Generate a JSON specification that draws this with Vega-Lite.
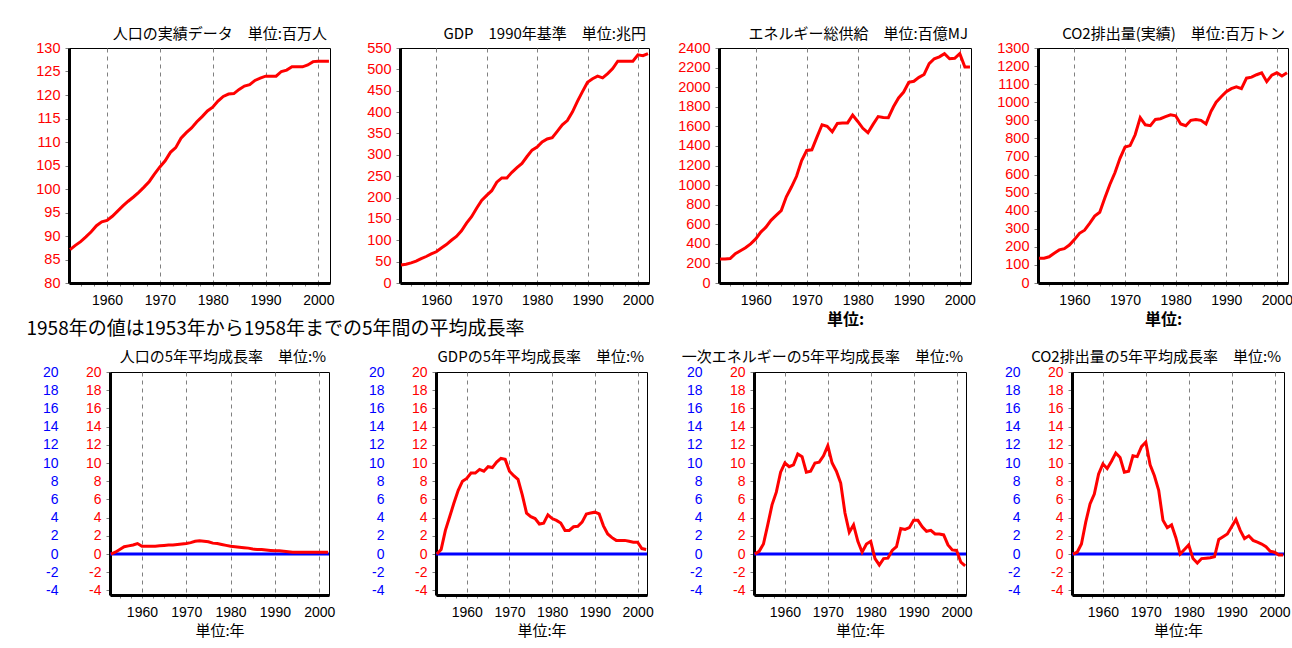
{
  "$schema": "https://vega.github.io/schema/vega-lite/v6.json",
  "padding": {"left": 26, "top": 26, "right": 0, "bottom": 0},
  "background": "white",
  "config": {
    "font": "Noto Sans CJK JP",
    "view": {"stroke": "black", "strokeWidth": 1},
    "axis": {"labelFont": "Liberation Sans", "labelFontSize": 14, "domainColor": "black", "domainWidth": 3, "tickColor": "#808080", "tickSize": 4, "grid": false, "titleFont": "Noto Sans CJK JP", "titleFontWeight": "normal", "titleColor": "black", "titleFontSize": 15, "labelColor": "black"},
    "title": {"font": "Noto Sans CJK JP", "fontSize": 15, "fontWeight": "normal", "anchor": "end", "frame": "group", "offset": -2, "color": "black", "dx": -3},
    "line": {"color": "#ff0000", "strokeWidth": 3}
  },
  "data": {"values": [
    {"year":1953,"pop":87.1,"gdp":42,"energy":245,"co2":137,"pop_r":0,"gdp_r":0,"energy_r":0,"co2_r":0},
    {"year":1954,"pop":88.0,"gdp":44,"energy":245,"co2":137,"pop_r":0.2,"gdp_r":0.5,"energy_r":0.3,"co2_r":0.2},
    {"year":1955,"pop":88.8,"gdp":47,"energy":250,"co2":145,"pop_r":0.5,"gdp_r":2.6,"energy_r":1.1,"co2_r":1.1},
    {"year":1956,"pop":89.8,"gdp":51,"energy":300,"co2":165,"pop_r":0.8,"gdp_r":4.1,"energy_r":3.2,"co2_r":3.5},
    {"year":1957,"pop":90.9,"gdp":57,"energy":330,"co2":183,"pop_r":0.9,"gdp_r":5.6,"energy_r":5.4,"co2_r":5.5},
    {"year":1958,"pop":92.2,"gdp":62,"energy":360,"co2":190,"pop_r":1.0,"gdp_r":7.0,"energy_r":6.8,"co2_r":6.6},
    {"year":1959,"pop":93.0,"gdp":68,"energy":400,"co2":210,"pop_r":1.15,"gdp_r":8.0,"energy_r":9.0,"co2_r":8.8},
    {"year":1960,"pop":93.3,"gdp":73,"energy":450,"co2":240,"pop_r":0.85,"gdp_r":8.3,"energy_r":10.0,"co2_r":9.9},
    {"year":1961,"pop":94.2,"gdp":82,"energy":520,"co2":275,"pop_r":0.85,"gdp_r":8.9,"energy_r":9.6,"co2_r":9.4},
    {"year":1962,"pop":95.3,"gdp":90,"energy":570,"co2":292,"pop_r":0.85,"gdp_r":8.9,"energy_r":9.8,"co2_r":10.2},
    {"year":1963,"pop":96.4,"gdp":100,"energy":640,"co2":330,"pop_r":0.85,"gdp_r":9.3,"energy_r":11.0,"co2_r":11.1},
    {"year":1964,"pop":97.4,"gdp":109,"energy":690,"co2":370,"pop_r":0.9,"gdp_r":9.1,"energy_r":10.7,"co2_r":10.6},
    {"year":1965,"pop":98.3,"gdp":122,"energy":740,"co2":391,"pop_r":0.95,"gdp_r":9.6,"energy_r":9.0,"co2_r":9.0},
    {"year":1966,"pop":99.3,"gdp":140,"energy":880,"co2":470,"pop_r":1.0,"gdp_r":9.5,"energy_r":9.1,"co2_r":9.1},
    {"year":1967,"pop":100.4,"gdp":155,"energy":980,"co2":545,"pop_r":1.0,"gdp_r":10.1,"energy_r":10.0,"co2_r":10.8},
    {"year":1968,"pop":101.6,"gdp":175,"energy":1090,"co2":610,"pop_r":1.05,"gdp_r":10.5,"energy_r":10.1,"co2_r":10.7},
    {"year":1969,"pop":103.2,"gdp":193,"energy":1250,"co2":690,"pop_r":1.1,"gdp_r":10.4,"energy_r":10.8,"co2_r":11.8},
    {"year":1970,"pop":104.7,"gdp":205,"energy":1354,"co2":752,"pop_r":1.15,"gdp_r":9.1,"energy_r":11.9,"co2_r":12.3},
    {"year":1971,"pop":106.0,"gdp":216,"energy":1360,"co2":760,"pop_r":1.25,"gdp_r":8.6,"energy_r":10.0,"co2_r":9.8},
    {"year":1972,"pop":107.8,"gdp":236,"energy":1490,"co2":820,"pop_r":1.4,"gdp_r":8.2,"energy_r":9.1,"co2_r":8.6},
    {"year":1973,"pop":108.8,"gdp":246,"energy":1616,"co2":915,"pop_r":1.45,"gdp_r":6.5,"energy_r":7.8,"co2_r":7.0},
    {"year":1974,"pop":110.8,"gdp":246,"energy":1600,"co2":875,"pop_r":1.4,"gdp_r":4.5,"energy_r":4.5,"co2_r":3.7},
    {"year":1975,"pop":112.0,"gdp":259,"energy":1545,"co2":870,"pop_r":1.35,"gdp_r":4.1,"energy_r":2.4,"co2_r":2.9},
    {"year":1976,"pop":113.0,"gdp":270,"energy":1630,"co2":905,"pop_r":1.2,"gdp_r":3.9,"energy_r":3.2,"co2_r":3.2},
    {"year":1977,"pop":114.3,"gdp":280,"energy":1633,"co2":909,"pop_r":1.15,"gdp_r":3.3,"energy_r":1.4,"co2_r":1.8},
    {"year":1978,"pop":115.4,"gdp":296,"energy":1635,"co2":920,"pop_r":1.05,"gdp_r":3.4,"energy_r":0.2,"co2_r":0.0},
    {"year":1979,"pop":116.6,"gdp":311,"energy":1715,"co2":930,"pop_r":0.95,"gdp_r":4.3,"energy_r":1.1,"co2_r":0.5},
    {"year":1980,"pop":117.4,"gdp":318,"energy":1650,"co2":925,"pop_r":0.85,"gdp_r":3.9,"energy_r":1.4,"co2_r":1.0},
    {"year":1981,"pop":118.7,"gdp":330,"energy":1580,"co2":880,"pop_r":0.8,"gdp_r":3.7,"energy_r":-0.5,"co2_r":-0.5},
    {"year":1982,"pop":119.7,"gdp":337,"energy":1535,"co2":870,"pop_r":0.75,"gdp_r":3.4,"energy_r":-1.2,"co2_r":-1.0},
    {"year":1983,"pop":120.2,"gdp":340,"energy":1620,"co2":900,"pop_r":0.7,"gdp_r":2.6,"energy_r":-0.5,"co2_r":-0.5},
    {"year":1984,"pop":120.3,"gdp":355,"energy":1700,"co2":905,"pop_r":0.65,"gdp_r":2.6,"energy_r":-0.45,"co2_r":-0.45},
    {"year":1985,"pop":121.2,"gdp":370,"energy":1690,"co2":900,"pop_r":0.55,"gdp_r":3.0,"energy_r":0.4,"co2_r":-0.4},
    {"year":1986,"pop":121.9,"gdp":380,"energy":1688,"co2":880,"pop_r":0.5,"gdp_r":3.05,"energy_r":0.8,"co2_r":-0.3},
    {"year":1987,"pop":122.2,"gdp":400,"energy":1800,"co2":950,"pop_r":0.5,"gdp_r":3.5,"energy_r":2.8,"co2_r":1.6},
    {"year":1988,"pop":123.1,"gdp":425,"energy":1890,"co2":1000,"pop_r":0.45,"gdp_r":4.4,"energy_r":2.7,"co2_r":1.9},
    {"year":1989,"pop":123.6,"gdp":448,"energy":1950,"co2":1030,"pop_r":0.4,"gdp_r":4.5,"energy_r":2.9,"co2_r":2.2},
    {"year":1990,"pop":124.0,"gdp":470,"energy":2050,"co2":1058,"pop_r":0.35,"gdp_r":4.6,"energy_r":3.7,"co2_r":3.0},
    {"year":1991,"pop":124.0,"gdp":478,"energy":2060,"co2":1075,"pop_r":0.35,"gdp_r":4.4,"energy_r":3.7,"co2_r":3.8},
    {"year":1992,"pop":124.0,"gdp":484,"energy":2100,"co2":1085,"pop_r":0.3,"gdp_r":3.1,"energy_r":3.0,"co2_r":2.6},
    {"year":1993,"pop":125.0,"gdp":480,"energy":2130,"co2":1075,"pop_r":0.25,"gdp_r":2.2,"energy_r":2.5,"co2_r":1.7},
    {"year":1994,"pop":125.3,"gdp":490,"energy":2240,"co2":1133,"pop_r":0.2,"gdp_r":1.8,"energy_r":2.6,"co2_r":2.0},
    {"year":1995,"pop":126.0,"gdp":502,"energy":2290,"co2":1139,"pop_r":0.2,"gdp_r":1.5,"energy_r":2.2,"co2_r":1.5},
    {"year":1996,"pop":126.0,"gdp":519,"energy":2310,"co2":1152,"pop_r":0.2,"gdp_r":1.5,"energy_r":2.2,"co2_r":1.3},
    {"year":1997,"pop":126.0,"gdp":519,"energy":2342,"co2":1163,"pop_r":0.2,"gdp_r":1.5,"energy_r":2.1,"co2_r":1.1},
    {"year":1998,"pop":126.4,"gdp":519,"energy":2290,"co2":1114,"pop_r":0.2,"gdp_r":1.4,"energy_r":1.0,"co2_r":0.8},
    {"year":1999,"pop":127.1,"gdp":519,"energy":2295,"co2":1150,"pop_r":0.2,"gdp_r":1.3,"energy_r":0.45,"co2_r":0.3},
    {"year":2000,"pop":127.2,"gdp":534,"energy":2342,"co2":1163,"pop_r":0.2,"gdp_r":1.3,"energy_r":0.4,"co2_r":0.2},
    {"year":2001,"pop":127.2,"gdp":532,"energy":2206,"co2":1145,"pop_r":0.2,"gdp_r":0.6,"energy_r":-0.9,"co2_r":-0.1},
    {"year":2002,"pop":127.2,"gdp":537,"energy":2206,"co2":1163,"pop_r":0.2,"gdp_r":0.5,"energy_r":-1.3,"co2_r":-0.1}
  ]},
  "spacing": -9,
  "vconcat": [
    {
      "spacing": 0,
      "hconcat": [
        {
          "width": 261, "height": 235,
          "title": {"text": "人口の実績データ　単位:百万人"},
          "mark": {"type": "line"},
          "encoding": {
            "x": {"field": "year", "type": "quantitative", "scale": {"domain": [1952.8, 2002.2], "nice": false, "zero": false},
              "axis": {"values": [1955,1957.5,1960,1962.5,1965,1967.5,1970,1972.5,1975,1977.5,1980,1982.5,1985,1987.5,1990,1992.5,1995,1997.5,2000], "labelExpr": "datum.value % 10 === 0 ? toString(datum.value) : ''", "grid": true, "gridColor": "#808080", "gridDash": [4,4], "gridOpacity": {"condition": {"test": "datum.value % 10 === 0", "value": 1}, "value": 0}, "labelFlush": false, "labelOverlap": false, "tickSize": 3, "labelPadding": 7, "title": null}},
            "y": {"field": "pop", "type": "quantitative", "scale": {"domain": [80, 130], "nice": false, "zero": false},
              "axis": {"values": [80,85,90,95,100,105,110,115,120,125,130], "format": "d", "labelColor": "#ff0000", "labelFontSize": 14.5, "labelPadding": 5, "title": null}}
          }
        },
        {
          "width": 249, "height": 235,
          "title": {"text": "GDP　1990年基準　単位:兆円"},
          "mark": {"type": "line"},
          "encoding": {
            "x": {"field": "year", "type": "quantitative", "scale": {"domain": [1952.8, 2002.2], "nice": false, "zero": false},
              "axis": {"values": [1955,1957.5,1960,1962.5,1965,1967.5,1970,1972.5,1975,1977.5,1980,1982.5,1985,1987.5,1990,1992.5,1995,1997.5,2000], "labelExpr": "datum.value % 10 === 0 ? toString(datum.value) : ''", "grid": true, "gridColor": "#808080", "gridDash": [4,4], "gridOpacity": {"condition": {"test": "datum.value % 10 === 0", "value": 1}, "value": 0}, "labelFlush": false, "labelOverlap": false, "tickSize": 3, "labelPadding": 7, "title": null}},
            "y": {"field": "gdp", "type": "quantitative", "scale": {"domain": [0, 550], "nice": false},
              "axis": {"values": [0,50,100,150,200,250,300,350,400,450,500,550], "format": "d", "labelColor": "#ff0000", "labelFontSize": 14.5, "labelPadding": 5, "minExtent": 63, "title": null}}
          }
        },
        {
          "width": 252, "height": 235,
          "title": {"text": "エネルギー総供給　単位:百億MJ"},
          "mark": {"type": "line"},
          "encoding": {
            "x": {"field": "year", "type": "quantitative", "scale": {"domain": [1952.8, 2002.2], "nice": false, "zero": false},
              "axis": {"values": [1955,1957.5,1960,1962.5,1965,1967.5,1970,1972.5,1975,1977.5,1980,1982.5,1985,1987.5,1990,1992.5,1995,1997.5,2000], "labelExpr": "datum.value % 10 === 0 ? toString(datum.value) : ''", "grid": true, "gridColor": "#808080", "gridDash": [4,4], "gridOpacity": {"condition": {"test": "datum.value % 10 === 0", "value": 1}, "value": 0}, "labelFlush": false, "labelOverlap": false, "tickSize": 3, "labelPadding": 7, "title": "単位:", "titleFontWeight": "bold", "titleFontSize": 16, "titlePadding": 4}},
            "y": {"field": "energy", "type": "quantitative", "scale": {"domain": [0, 2400], "nice": false},
              "axis": {"values": [0,200,400,600,800,1000,1200,1400,1600,1800,2000,2200,2400], "format": "d", "labelColor": "#ff0000", "labelFontSize": 14.5, "labelPadding": 5, "minExtent": 63.5, "title": null}}
          }
        },
        {
          "width": 250, "height": 235,
          "title": {"text": "CO2排出量(実績)　単位:百万トン"},
          "mark": {"type": "line"},
          "encoding": {
            "x": {"field": "year", "type": "quantitative", "scale": {"domain": [1952.8, 2002.2], "nice": false, "zero": false},
              "axis": {"values": [1955,1957.5,1960,1962.5,1965,1967.5,1970,1972.5,1975,1977.5,1980,1982.5,1985,1987.5,1990,1992.5,1995,1997.5,2000], "labelExpr": "datum.value % 10 === 0 ? toString(datum.value) : ''", "grid": true, "gridColor": "#808080", "gridDash": [4,4], "gridOpacity": {"condition": {"test": "datum.value % 10 === 0", "value": 1}, "value": 0}, "labelFlush": false, "labelOverlap": false, "tickSize": 3, "labelPadding": 7, "title": "単位:", "titleFontWeight": "bold", "titleFontSize": 16, "titlePadding": 4}},
            "y": {"field": "co2", "type": "quantitative", "scale": {"domain": [0, 1300], "nice": false},
              "axis": {"values": [0,100,200,300,400,500,600,700,800,900,1000,1100,1200,1300], "format": "d", "labelColor": "#ff0000", "labelFontSize": 14.5, "labelPadding": 5, "minExtent": 59.6, "title": null}}
          }
        }
      ]
    },
    {
      "bounds": "flush",
      "spacing": 40,
      "title": {"text": "1958年の値は1953年から1958年までの5年間の平均成長率", "anchor": "start", "frame": "bounds", "fontSize": 19, "offset": 11, "dx": 0},
      "hconcat": [
        {
          "width": 1, "height": 1,
          "view": {"stroke": null},
          "data": {"values": []},
          "mark": {"type": "point", "opacity": 0}
        },
        {
          "spacing": 0,
          "hconcat": [
            {
              "width": 219, "height": 223,
              "title": {"text": "人口の5年平均成長率　単位:%", "offset": 0},
              "resolve": {"scale": {"y": "independent"}},
              "layer": [
                {
                  "data": {"values": [{}]},
                  "mark": {"type": "rule", "color": "#0000ff", "strokeWidth": 3},
                  "encoding": {
                    "y": {"datum": 0, "type": "quantitative", "scale": {"domain": [-4.5, 20], "nice": false, "zero": false},
                      "axis": {"orient": "left", "offset": 49, "values": [-4,-2,0,2,4,6,8,10,12,14,16,18,20], "labelExpr": "toString(datum.value)", "labelColor": "#0000ff", "domain": false, "ticks": false, "labelPadding": 3, "minExtent": 34, "title": null}}
                  }
                },
                {
                  "mark": {"type": "line"},
                  "encoding": {
                    "x": {"field": "year", "type": "quantitative", "scale": {"domain": [1952.8, 2002.2], "nice": false, "zero": false},
                      "axis": {"values": [1955,1957.5,1960,1962.5,1965,1967.5,1970,1972.5,1975,1977.5,1980,1982.5,1985,1987.5,1990,1992.5,1995,1997.5,2000], "labelExpr": "datum.value % 10 === 0 ? toString(datum.value) : ''", "grid": true, "gridColor": "#808080", "gridDash": [4,4], "gridOpacity": {"condition": {"test": "datum.value % 10 === 0", "value": 1}, "value": 0}, "labelFlush": false, "labelOverlap": false, "tickSize": 3, "labelPadding": 7, "title": "単位:年", "titlePadding": 4}},
                    "y": {"field": "pop_r", "type": "quantitative", "scale": {"domain": [-4.5, 20], "nice": false, "zero": false},
                      "axis": {"orient": "left", "values": [-4,-2,0,2,4,6,8,10,12,14,16,18,20], "labelExpr": "toString(datum.value)", "labelColor": "#ff0000", "labelPadding": 5, "title": null}}
                  }
                }
              ]
            },
            {
              "width": 211, "height": 223,
              "title": {"text": "GDPの5年平均成長率　単位:%", "offset": 0},
              "resolve": {"scale": {"y": "independent"}},
              "layer": [
                {
                  "data": {"values": [{}]},
                  "mark": {"type": "rule", "color": "#0000ff", "strokeWidth": 3},
                  "encoding": {
                    "y": {"datum": 0, "type": "quantitative", "scale": {"domain": [-4.5, 20], "nice": false, "zero": false},
                      "axis": {"orient": "left", "offset": 49, "values": [-4,-2,0,2,4,6,8,10,12,14,16,18,20], "labelExpr": "toString(datum.value)", "labelColor": "#0000ff", "domain": false, "ticks": false, "labelPadding": 3, "minExtent": 50.2, "title": null}}
                  }
                },
                {
                  "mark": {"type": "line"},
                  "encoding": {
                    "x": {"field": "year", "type": "quantitative", "scale": {"domain": [1952.8, 2002.2], "nice": false, "zero": false},
                      "axis": {"values": [1955,1957.5,1960,1962.5,1965,1967.5,1970,1972.5,1975,1977.5,1980,1982.5,1985,1987.5,1990,1992.5,1995,1997.5,2000], "labelExpr": "datum.value % 10 === 0 ? toString(datum.value) : ''", "grid": true, "gridColor": "#808080", "gridDash": [4,4], "gridOpacity": {"condition": {"test": "datum.value % 10 === 0", "value": 1}, "value": 0}, "labelFlush": false, "labelOverlap": false, "tickSize": 3, "labelPadding": 7, "title": "単位:年", "titlePadding": 4}},
                    "y": {"field": "gdp_r", "type": "quantitative", "scale": {"domain": [-4.5, 20], "nice": false, "zero": false},
                      "axis": {"orient": "left", "values": [-4,-2,0,2,4,6,8,10,12,14,16,18,20], "labelExpr": "toString(datum.value)", "labelColor": "#ff0000", "labelPadding": 5, "title": null}}
                  }
                }
              ]
            },
            {
              "width": 212, "height": 223,
              "title": {"text": "一次エネルギーの5年平均成長率　単位:%", "offset": 0},
              "resolve": {"scale": {"y": "independent"}},
              "layer": [
                {
                  "data": {"values": [{}]},
                  "mark": {"type": "rule", "color": "#0000ff", "strokeWidth": 3},
                  "encoding": {
                    "y": {"datum": 0, "type": "quantitative", "scale": {"domain": [-4.5, 20], "nice": false, "zero": false},
                      "axis": {"orient": "left", "offset": 49, "values": [-4,-2,0,2,4,6,8,10,12,14,16,18,20], "labelExpr": "toString(datum.value)", "labelColor": "#0000ff", "domain": false, "ticks": false, "labelPadding": 3, "minExtent": 49.8, "title": null}}
                  }
                },
                {
                  "mark": {"type": "line"},
                  "encoding": {
                    "x": {"field": "year", "type": "quantitative", "scale": {"domain": [1952.8, 2002.2], "nice": false, "zero": false},
                      "axis": {"values": [1955,1957.5,1960,1962.5,1965,1967.5,1970,1972.5,1975,1977.5,1980,1982.5,1985,1987.5,1990,1992.5,1995,1997.5,2000], "labelExpr": "datum.value % 10 === 0 ? toString(datum.value) : ''", "grid": true, "gridColor": "#808080", "gridDash": [4,4], "gridOpacity": {"condition": {"test": "datum.value % 10 === 0", "value": 1}, "value": 0}, "labelFlush": false, "labelOverlap": false, "tickSize": 3, "labelPadding": 7, "title": "単位:年", "titlePadding": 4}},
                    "y": {"field": "energy_r", "type": "quantitative", "scale": {"domain": [-4.5, 20], "nice": false, "zero": false},
                      "axis": {"orient": "left", "values": [-4,-2,0,2,4,6,8,10,12,14,16,18,20], "labelExpr": "toString(datum.value)", "labelColor": "#ff0000", "labelPadding": 5, "title": null}}
                  }
                }
              ]
            },
            {
              "width": 212, "height": 223,
              "title": {"text": "CO2排出量の5年平均成長率　単位:%", "offset": 0},
              "resolve": {"scale": {"y": "independent"}},
              "layer": [
                {
                  "data": {"values": [{}]},
                  "mark": {"type": "rule", "color": "#0000ff", "strokeWidth": 3},
                  "encoding": {
                    "y": {"datum": 0, "type": "quantitative", "scale": {"domain": [-4.5, 20], "nice": false, "zero": false},
                      "axis": {"orient": "left", "offset": 49, "values": [-4,-2,0,2,4,6,8,10,12,14,16,18,20], "labelExpr": "toString(datum.value)", "labelColor": "#0000ff", "domain": false, "ticks": false, "labelPadding": 3, "minExtent": 48.9, "title": null}}
                  }
                },
                {
                  "mark": {"type": "line"},
                  "encoding": {
                    "x": {"field": "year", "type": "quantitative", "scale": {"domain": [1952.8, 2002.2], "nice": false, "zero": false},
                      "axis": {"values": [1955,1957.5,1960,1962.5,1965,1967.5,1970,1972.5,1975,1977.5,1980,1982.5,1985,1987.5,1990,1992.5,1995,1997.5,2000], "labelExpr": "datum.value % 10 === 0 ? toString(datum.value) : ''", "grid": true, "gridColor": "#808080", "gridDash": [4,4], "gridOpacity": {"condition": {"test": "datum.value % 10 === 0", "value": 1}, "value": 0}, "labelFlush": false, "labelOverlap": false, "tickSize": 3, "labelPadding": 7, "title": "単位:年", "titlePadding": 4}},
                    "y": {"field": "co2_r", "type": "quantitative", "scale": {"domain": [-4.5, 20], "nice": false, "zero": false},
                      "axis": {"orient": "left", "values": [-4,-2,0,2,4,6,8,10,12,14,16,18,20], "labelExpr": "toString(datum.value)", "labelColor": "#ff0000", "labelPadding": 5, "title": null}}
                  }
                }
              ]
            }
          ]
        }
      ]
    }
  ]
}
